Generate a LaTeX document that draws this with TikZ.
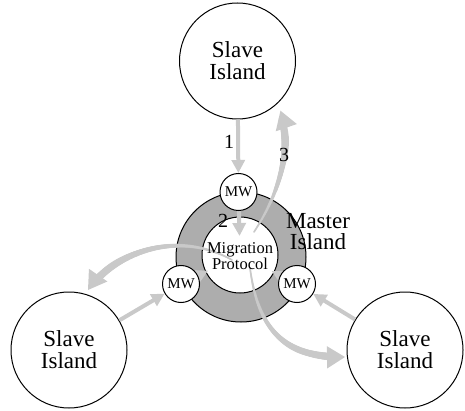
\documentclass[tikz,border=0pt]{standalone}
\usepackage{fontspec}
\setmainfont{Liberation Serif}
\usetikzlibrary{arrows.meta, decorations.markings}

\definecolor{ringgray}{gray}{0.68}
\definecolor{flowgray}{gray}{0.79}

\begin{document}
\begin{tikzpicture}[x=1pt, y=-1pt,
    island/.style={draw, circle, line width=1pt, fill=white, minimum size=116pt, inner sep=0pt, align=center, font=\fontsize{23}{22}\selectfont},
    mw/.style={draw, circle, line width=1pt, fill=white, minimum size=37pt, inner sep=0pt, font=\fontsize{15}{15}\selectfont},
    link/.style={flowgray, line width=4pt, -{Triangle[length=13pt, width=13pt]}},
    flow/.style={flowgray, line width=1.5pt, -{Triangle[length=18pt, width=22pt]},
        decoration={markings, mark=between positions 0 and -15pt step 1pt with {
            \pgfmathsetmacro\flowr{0.8+3.4*\pgfkeysvalueof{/pgf/decoration/mark info/distance from start}/\pgfdecoratedpathlength}
            \fill[flowgray] (0,0) circle (\flowr pt);}},
        postaction={decorate}},
    num/.style={font=\fontsize{20}{20}\selectfont}]
	\useasboundingbox (0,0) rectangle (465,411);
	% master island
	\node[draw, circle, line width=1pt, fill=ringgray, minimum size=130pt] (master) at (241,257) {};
	\node[draw, circle, line width=1pt, fill=white, minimum size=76pt] (proto) at (240,255) {};
	\node[font=\fontsize{23}{21}\selectfont, align=center] (mlabel) at (318,232) {Master\\Island};
	
	\coordinate (out3) at (254,232);
	\coordinate (outl) at (232,260);
	\coordinate (outr) at (250,268);
	
	% arrows
	\draw[link, shorten >=19pt] (238.5,192) -- (proto.center);
	\draw[link, shorten >=-3pt] (181,284) -- (proto);
	\draw[link, shorten >=-3pt] (297,284) -- (proto);
	\draw[flow, shorten >=6pt] (out3) .. controls (278,195) and (294,150) .. (237.5+41,61+44);
	\draw[flow] (outl) .. controls (175,228) and (112,255) .. (88,290);
	\draw[flow] (outr) .. controls (258,330) and (285,358) .. (345,357);
	
	\node[align=center, font=\fontsize{16.5}{16}\selectfont] (ptext) at (240,256) {Migration\\Protocol};
	
	% middleware
	\node[mw] (mwt) at (238.5,192) {MW};
	\node[mw] (mwl) at (181,284) {MW};
	\node[mw] (mwr) at (297,284) {MW};
	
	% slave islands
	\node[island] (st) at (237.5,61) {Slave\\Island};
	\node[island] (sl) at (69,350) {Slave\\Island};
	\node[island] (sr) at (405,350) {Slave\\Island};
	
	\draw[link] (st) -- (mwt);
	\draw[link] (sl) -- (mwl);
	\draw[link] (sr) -- (mwr);
	
	\node[num] (n1) at (229,142) {1};
	\node[num] (n2) at (223,221) {2};
	\node[num] (n3) at (284,155) {3};
\end{tikzpicture}
\end{document}
